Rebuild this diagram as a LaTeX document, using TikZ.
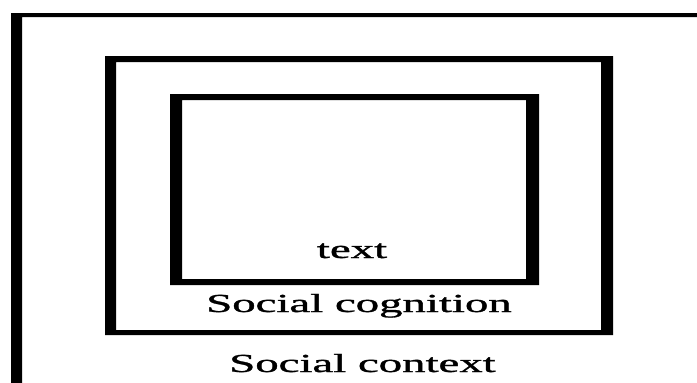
\documentclass[tikz,border=0pt]{standalone}
\usepackage{fontspec}
\setmainfont{Liberation Serif}
\newfontfamily\heavyserif[FakeBold=1]{Liberation Serif}
\begin{document}
\begin{tikzpicture}[x=1pt,y=-1pt,
  frame/.style={fill=black,even odd rule},
  lbl/.style={inner sep=0pt,anchor=base,font=\heavyserif\fontsize{26}{30}\selectfont}]
\useasboundingbox[fill=white] (0,0) rectangle (697,383);
% outer context frame: heavy left bar and thinner top bar
\fill[black] (11,383) -- (11,13) -- (697,13) -- (697,17) -- (22,17) -- (22,383) -- cycle;
% social cognition box
\fill[frame] (105,56) rectangle (613,335) (116,62) rectangle (601,330);
% text box
\fill[frame] (170,94) rectangle (539,285) (182,100) rectangle (526,279);
% labels
\node[lbl] (txt) at (352,258) {\scalebox{1.8}[1]{text}};
\node[lbl] (cog) at (359,312) {\scalebox{1.8}[1]{Social cognition}};
\node[lbl] (ctx) at (362.5,372) {\scalebox{1.8}[1]{Social context}};
\end{tikzpicture}
\end{document}
